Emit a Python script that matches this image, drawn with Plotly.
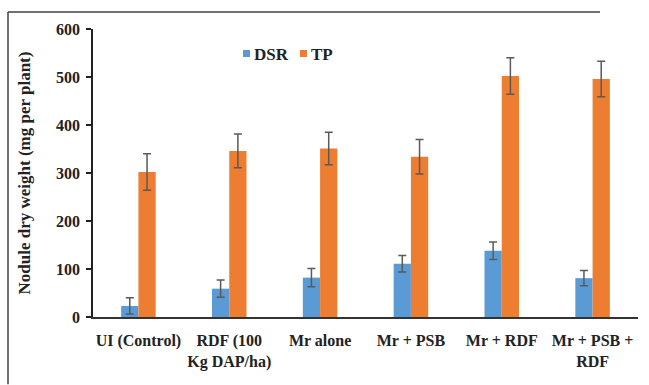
import plotly.graph_objects as go

categories = ["UI (Control)", "RDF (100<br>Kg DAP/ha)", "Mr alone", "Mr + PSB", "Mr + RDF", "Mr + PSB +<br>RDF"]
dsr = [23, 59, 82, 111, 138, 81]
dsr_err = [17, 18, 19, 17, 18, 16]
tp = [302, 346, 351, 334, 502, 496]
tp_err = [38, 35, 34, 36, 38, 37]
y_ticks = [0, 100, 200, 300, 400, 500, 600]
series_names = ["DSR", "TP"]
series_colors = ["#5B9BD5", "#ED7D31"]

font_family = "'Liberation Serif', 'Times New Roman', serif"
txt = "#222222"

fig = go.Figure()
for name, vals, errs, col in zip(series_names, [dsr, tp], [dsr_err, tp_err], series_colors):
    fig.add_trace(go.Bar(
        name=name, x=categories, y=vals, marker_color=col, marker_line_width=0,
        error_y=dict(type="data", array=errs, visible=True, color="#5a5a5a", thickness=1.5, width=4),
    ))

PW, PH = 545, 287.7
def px(x):
    return (x - 93) / PW
def py(y):
    return (316.7 - y) / PH

# outer frame: top edge and left edge
shapes = [
    dict(type="line", xref="paper", yref="paper", x0=px(8), x1=px(600), y0=py(12), y1=py(12),
         line=dict(color="#404040", width=1.5), layer="below"),
    dict(type="line", xref="paper", yref="paper", x0=px(8), x1=px(8), y0=py(12), y1=py(384),
         line=dict(color="#404040", width=1.5), layer="below"),
]
annotations = []
legend_x = [243, 300]
for name, col, lx in zip(series_names, series_colors, legend_x):
    shapes.append(dict(type="rect", xref="paper", yref="paper",
                       x0=px(lx), x1=px(lx + 7), y0=py(57), y1=py(50),
                       line=dict(width=0), fillcolor=col))
    annotations.append(dict(xref="paper", yref="paper", x=px(lx + 9), y=py(54),
                            xanchor="left", yanchor="middle", showarrow=False, text=name,
                            font=dict(family=font_family, size=17, color=txt, weight="bold")))

fig.update_layout(
    width=649, height=385,
    margin=dict(l=93, r=11, t=29, b=68),
    paper_bgcolor="white", plot_bgcolor="white",
    barmode="group", bargap=0.62, bargroupgap=0,
    font=dict(family=font_family, size=16, color=txt),
    showlegend=False,
    xaxis=dict(showline=True, linecolor="#333333", linewidth=1.5, ticks="",
               tickfont=dict(family=font_family, size=16, color=txt, weight="bold"),
               ticklabelstandoff=8,
               showgrid=False, zeroline=False),
    yaxis=dict(range=[0, 600], tickvals=y_ticks, showline=True, linecolor="#222222", linewidth=1.5,
               ticks="outside", ticklen=5, tickcolor="#222222", tickwidth=1.5,
               tickfont=dict(family=font_family, size=16, color=txt, weight="bold"),
               ticklabelstandoff=3,
               showgrid=False, zeroline=False,
               title=dict(text="Nodule dry weight (mg per plant)", standoff=21,
                          font=dict(family=font_family, size=17, color=txt, weight="bold"))),
    shapes=shapes,
    annotations=annotations,
)

fig.write_html("out.html")
